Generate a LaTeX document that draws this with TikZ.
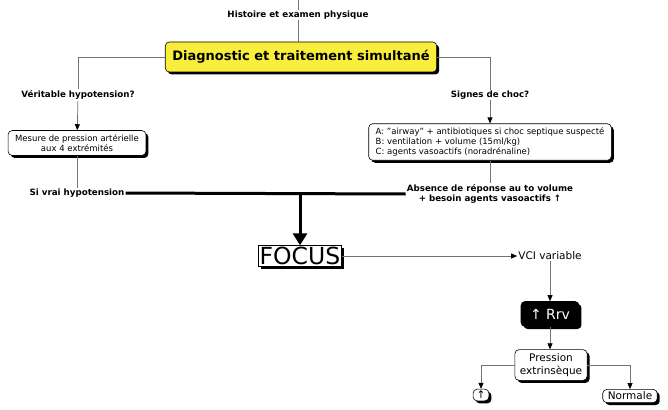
\documentclass[tikz,border=0pt]{standalone}
\usepackage{fontspec}
\setmainfont{DejaVu Sans}
\usetikzlibrary{arrows.meta,shadows}
\definecolor{diagyellow}{RGB}{250,238,60}
\definecolor{linegray}{RGB}{115,115,115}
\tikzset{
  lbl/.style={font=\fontsize{8.7}{10}\selectfont\bfseries, inner sep=1pt},
  box/.style={draw=black, fill=white, rounded corners=4pt, line width=.6pt,
    font=\fontsize{8.5}{10}\selectfont, inner xsep=7pt, inner ysep=4pt,
    drop shadow={shadow xshift=2.5pt, shadow yshift=-2.5pt, fill=black, opacity=1}},
  lowbox/.style={box, font=\fontsize{10.5}{12.5}\selectfont},
  mainbox/.style={box, fill=diagyellow, font=\fontsize{13}{15}\selectfont\bfseries,
    minimum height=30pt, inner xsep=7pt},
  focusbox/.style={draw=black, fill=white, line width=.6pt, inner sep=1.5pt,
    font=\fontsize{23.5}{26}\selectfont,
    drop shadow={shadow xshift=2.5pt, shadow yshift=-2.5pt, fill=black, opacity=1}},
  rrvbox/.style={box, fill=black, text=white, font=\fontsize{14}{16}\selectfont,
    minimum height=25pt, inner xsep=9pt},
  conn/.style={draw=linegray, line width=.7pt, -{Triangle[color=black,length=6pt,width=5pt]}},
  plainline/.style={draw=linegray, line width=.7pt},
  bigline/.style={draw=black, line width=3pt},
}
\begin{document}
\begin{tikzpicture}[x=1pt, y=-1pt]
	\useasboundingbox (0,0) rectangle (668,409);
	% haut du schema
	\coordinate (start) at (298,0);
	\node[lbl] (hist) at (298,15) {Histoire et examen physique};
	\node[mainbox] (diag) at (301,57) {Diagnostic et traitement simultané};
	\draw[plainline] (start) -- (hist);
	\draw[plainline] (hist) -- (hist |- diag.north);

	% branche gauche
	\node[lbl] (verit) at (78,95) {Véritable hypotension?};
	\node[box, align=center] (mesure) at (77,143) {Mesure de pression artérielle\\aux 4 extrémités};
	\node[lbl] (sivrai) at (77,193) {Si vrai hypotension};
	\draw[plainline] (diag.west) -| (verit);
	\draw[conn] (verit) -- (mesure);
	\draw[plainline] (mesure) -- (sivrai);

	% branche droite
	\node[lbl] (signes) at (490,95) {Signes de choc?};
	\node[box, align=left] (abc) at (490,142) {A: "airway" + antibiotiques si choc septique suspecté\\B: ventilation + volume (15ml/kg)\\C: agents vasoactifs (noradrénaline)};
	\node[lbl, align=center] (absence) at (490,194) {Absence de réponse au to volume\\+ besoin agents vasoactifs ↑};
	\draw[plainline] (diag.east) -| (signes);
	\draw[conn] (signes) -- (abc);
	\draw[plainline] (abc) -- (absence);

	% FOCUS
	\node[focusbox] (focus) at (300,256) {FOCUS};
	\draw[bigline] (sivrai.east) -- (absence.west);
	\coordinate (join) at (focus.north |- absence.west);
	\draw[bigline, -{Triangle[length=12pt,width=14pt]}] (join) -- (focus.north);

	% echo
	\node[inner sep=1pt, font=\fontsize{10.5}{12}\selectfont] (vci) at (550,256) {VCI variable};
	\node[rrvbox] (rrv) at (550,314) {↑ Rrv};
	\node[lowbox, align=center, inner xsep=5pt, inner ysep=4pt] (pression) at (551,365) {Pression\\extrinsèque};
	\node[lowbox, inner xsep=3.5pt, inner ysep=2pt] (up) at (481,395) {↑};
	\node[lowbox, inner xsep=5pt, inner ysep=2.5pt] (normale) at (630,396) {Normale};
	\draw[conn] (focus.east) -- (vci.west);
	\draw[conn] (vci) -- (rrv);
	\draw[conn] (rrv) -- (rrv |- pression.north);
	\draw[conn] (pression.west) -| (up);
	\draw[conn] (pression.east) -| (normale);
\end{tikzpicture}
\end{document}
